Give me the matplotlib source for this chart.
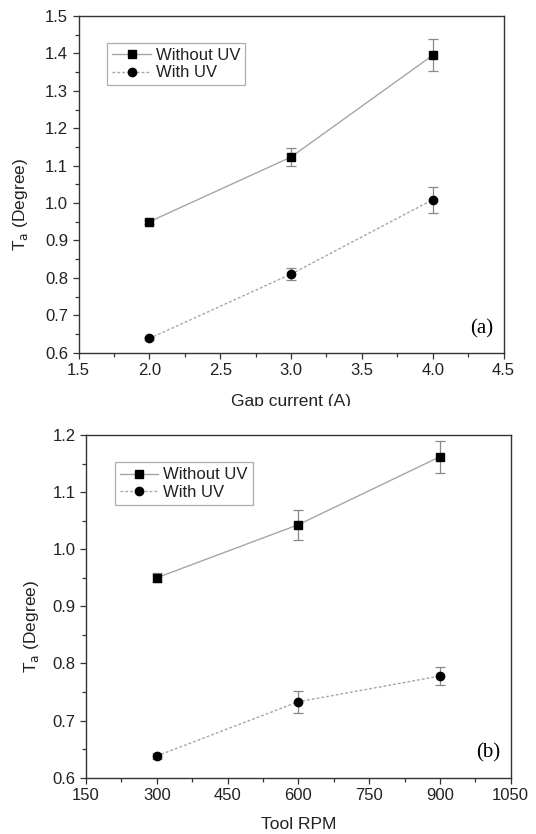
import numpy as np
import matplotlib
matplotlib.use('Agg')
import matplotlib.pyplot as plt
from matplotlib.ticker import MultipleLocator, AutoMinorLocator
from matplotlib.patches import Rectangle

plt.rcParams['font.family'] = ['Liberation Sans', 'DejaVu Sans']

# panel (a): gap current
gap_current = [2.0, 3.0, 4.0]
ta_gap_without = [0.950, 1.123, 1.395]
err_gap_without = [0.005, 0.024, 0.043]
ta_gap_with = [0.638, 0.810, 1.009]
err_gap_with = [0.005, 0.016, 0.035]

# panel (b): tool rpm
tool_rpm = [300, 600, 900]
ta_rpm_without = [0.950, 1.043, 1.162]
err_rpm_without = [0.008, 0.026, 0.028]
ta_rpm_with = [0.638, 0.733, 0.778]
err_rpm_with = [0.005, 0.019, 0.016]

labels = ['Without UV', 'With UV']
line_col = '#a6a6a6'
txt_col = '#222222'


def draw_panel(ax, x, y1, e1, y2, e2, xlim, xstep, ylim, ystep, xlabel, tag, xpad, ypad):
    styles = [('-', 's', 5.5), ((0, (2, 1.5)), 'o', 6)]
    for y, e, (ls, mk, ms), lab in zip([y1, y2], [e1, e2], styles, labels):
        ax.errorbar(x, y, yerr=e, fmt='none', ecolor='#888888',
                    elinewidth=0.9, capsize=3.5, capthick=0.9)
        ax.plot(x, y, color=line_col, lw=1.0, ls=ls, marker=mk, ms=ms,
                mfc='black', mec='black', label=lab)
    ax.set_xlim(*xlim)
    ax.set_ylim(*ylim)
    ax.xaxis.set_major_locator(MultipleLocator(xstep))
    ax.yaxis.set_major_locator(MultipleLocator(ystep))
    ax.xaxis.set_minor_locator(AutoMinorLocator(2))
    ax.yaxis.set_minor_locator(AutoMinorLocator(2))
    ax.tick_params(which='major', direction='out', length=4.5, width=0.9,
                   labelsize=12, colors='#333333', labelcolor=txt_col, pad=3)
    ax.tick_params(which='minor', direction='out', length=2.8, width=0.9,
                   colors='#333333')
    for s in ax.spines.values():
        s.set_color('#333333')
        s.set_linewidth(1.0)
    ax.set_xlabel(xlabel, fontsize=12.5, color=txt_col, labelpad=xpad)
    ax.set_ylabel(r'T$_{\rm a}$ (Degree)', fontsize=12.5, color=txt_col, labelpad=ypad)
    ax.yaxis.label.set_y(0.44)
    leg = ax.legend(loc='upper left', bbox_to_anchor=(0.068, 0.92),
                    fontsize=12, frameon=True, fancybox=False,
                    handlelength=2.3, handletextpad=0.3, borderpad=0.3,
                    labelspacing=0.15, borderaxespad=0)
    leg.get_frame().set_edgecolor('#999999')
    leg.get_frame().set_linewidth(0.9)
    for t in leg.get_texts():
        t.set_color(txt_col)
    ax.text(0.976, 0.043, tag, transform=ax.transAxes, ha='right', va='bottom',
            fontsize=15, family='Liberation Serif', color='black')


fig = plt.figure(figsize=(5.36, 8.34), dpi=100)
ax1 = fig.add_axes([0.1465, 0.5771, 0.7929, 0.4037])
ax2 = fig.add_axes([0.1604, 0.0675, 0.7924, 0.4109])

draw_panel(ax1, gap_current, ta_gap_without, err_gap_without, ta_gap_with, err_gap_with,
           (1.5, 4.5), 0.5, (0.6, 1.5), 0.1, 'Gap current (A)', '(a)', 11.5, 11)
draw_panel(ax2, tool_rpm, ta_rpm_without, err_rpm_without, ta_rpm_with, err_rpm_with,
           (150, 1050), 150, (0.6, 1.2), 0.1, 'Tool RPM', '(b)', 10, 8.5)

# the source figure crops the bottom of the first x label
fig.patches.append(Rectangle((0, 1 - 418 / 834), 1, 12 / 834, transform=fig.transFigure,
                             facecolor='white', edgecolor='none', zorder=5))

fig.savefig('out.png', dpi=100)
